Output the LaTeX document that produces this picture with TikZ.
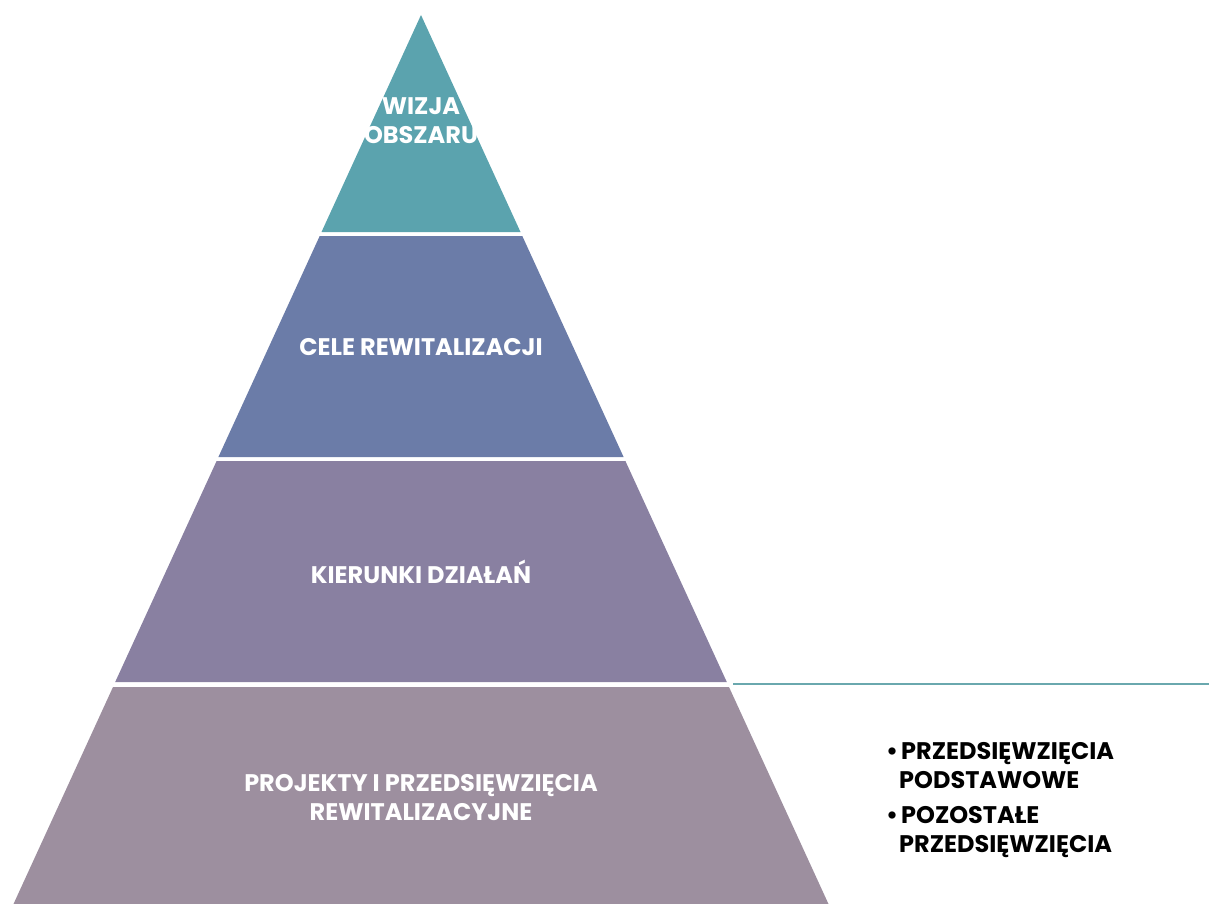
\documentclass[tikz,border=0pt]{standalone}
\usepackage{fontspec}
\setmainfont{Poppins}
\usepackage{tikz}
\usetikzlibrary{positioning}
\usepackage{xcolor}

\definecolor{tealtop}{HTML}{5BA3AE}
\definecolor{bluecel}{HTML}{6B7CA8}
\definecolor{violetkier}{HTML}{8980A1}
\definecolor{mauveproj}{HTML}{9D8F9F}
\definecolor{tealline}{HTML}{6AA8AE}

\tikzset{
  layertext/.style={text=white, font=\fontsize{24}{29}\selectfont\bfseries, align=center, inner sep=0pt},
  bullettext/.style={text=black, font=\fontsize{24}{29}\selectfont\bfseries, align=left, anchor=base west, inner sep=0pt},
}

\begin{document}
\begin{tikzpicture}[x=1pt,y=-1pt]
  \useasboundingbox (0,0) rectangle (1209,904);

  % pyramid layers
  \fill[tealtop]    (421,15) -- (520.5,232) -- (321.5,232) -- cycle;
  \fill[bluecel]    (319.7,236) -- (522.3,236) -- (623.6,457) -- (218.4,457) -- cycle;
  \fill[violetkier] (216.6,461) -- (625.4,461) -- (726.8,682) -- (115.2,682) -- cycle;
  \fill[mauveproj]  (113,687) -- (729,687) -- (828.5,904) -- (13.5,904) -- cycle;

  \node[layertext] (wizja) at (421,121) {WIZJA\\OBSZARU};
  \node[layertext] (cele) at (421,347) {CELE REWITALIZACJI};
  \node[layertext] (kier) at (421,572) {KIERUNKI DZIAŁAŃ};
  \node[layertext] (proj) at (421,798) {PROJEKTY I PRZEDSIĘWZIĘCIA\\REWITALIZACYJNE};

  % line to the right
  \coordinate (lineL) at (733,684);
  \coordinate (lineR) at (1209,684);
  \draw[tealline, line width=2pt] (lineL) -- (lineR);

  % bullets
  \node[bullettext] (b1) at (886,759) {•};
  \node[bullettext] (p1) at (901,759) {PRZEDSIĘWZIĘCIA};
  \node[bullettext] (p2) at (899,788) {PODSTAWOWE};
  \node[bullettext] (b2) at (886,823) {•};
  \node[bullettext] (p3) at (901,823) {POZOSTAŁE};
  \node[bullettext] (p4) at (899,852) {PRZEDSIĘWZIĘCIA};
\end{tikzpicture}
\end{document}
